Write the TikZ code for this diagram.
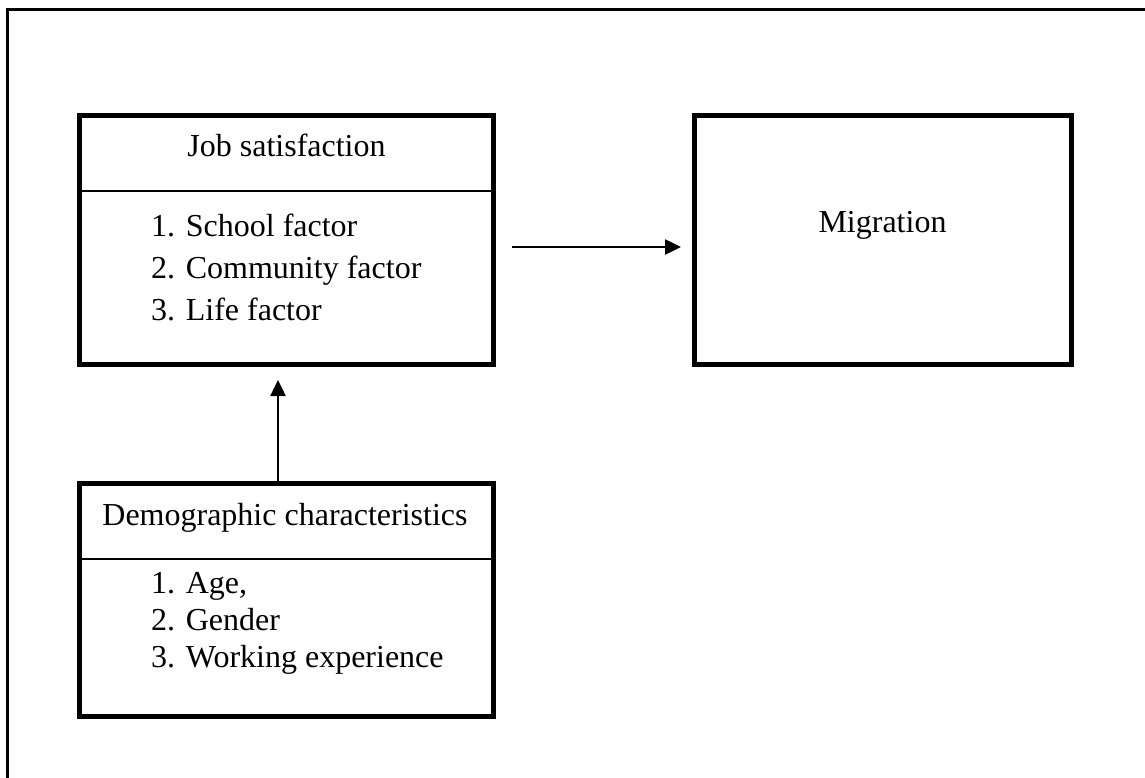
\documentclass[tikz,border=0pt]{standalone}
\usepackage{fontspec}
\setmainfont{Liberation Serif}
\usetikzlibrary{arrows.meta}
\begin{document}
\begin{tikzpicture}[x=1pt,y=-1pt,
  box/.style={draw=black,line width=5pt,minimum width=414pt,inner sep=0pt},
  divider/.style={line width=2pt},
  frame/.style={line width=2.5pt},
  conn/.style={line width=2.5pt,-{Triangle[length=16pt,width=15pt]}},
  txt/.style={inner sep=0pt,anchor=base,font=\fontsize{32}{38}\selectfont},
  item/.style={inner sep=0pt,anchor=base west,font=\fontsize{32}{38}\selectfont}]
\useasboundingbox (0,0) rectangle (1145,778);
% outer frame (only top and left visible)
\draw[frame] (7.5,778) -- (7.5,9.5) -- (1145,9.5);
% Job satisfaction box
\node[box,minimum height=249pt] (job) at (286.5,240) {};
\draw[divider] (79.5,191) coordinate (jdl) -- (493.5,191) coordinate (jdr);
\node[txt] (jtitle) at (286.5,157) {Job satisfaction};
\node[item] (j1) at (151,236) {1. School factor};
\node[item] (j2) at (151,278) {2. Community factor};
\node[item] (j3) at (151,320) {3. Life factor};
% Migration box
\node[box,minimum width=377pt,minimum height=249pt] (mig) at (883,240) {};
\node[txt] (migt) at (882.5,232) {Migration};
% Demographic box
\node[box,minimum height=233pt] (demo) at (286.5,600) {};
\draw[divider] (79.5,559) coordinate (ddl) -- (493.5,559) coordinate (ddr);
\node[txt] (dtitle) at (285,525) {Demographic characteristics};
\node[item] (d1) at (151,593) {1. Age,};
\node[item] (d2) at (151,630) {2. Gender};
\node[item] (d3) at (151,667) {3. Working experience};
% connectors
\draw[conn,shorten <=16pt,shorten >=11pt] ([yshift=-7pt]job.east) -- ([yshift=-7pt]mig.west);
\draw[conn,shorten >=13pt] ([xshift=-8.5pt]demo.north) -- ([xshift=-8.5pt]job.south);
\end{tikzpicture}
\end{document}
